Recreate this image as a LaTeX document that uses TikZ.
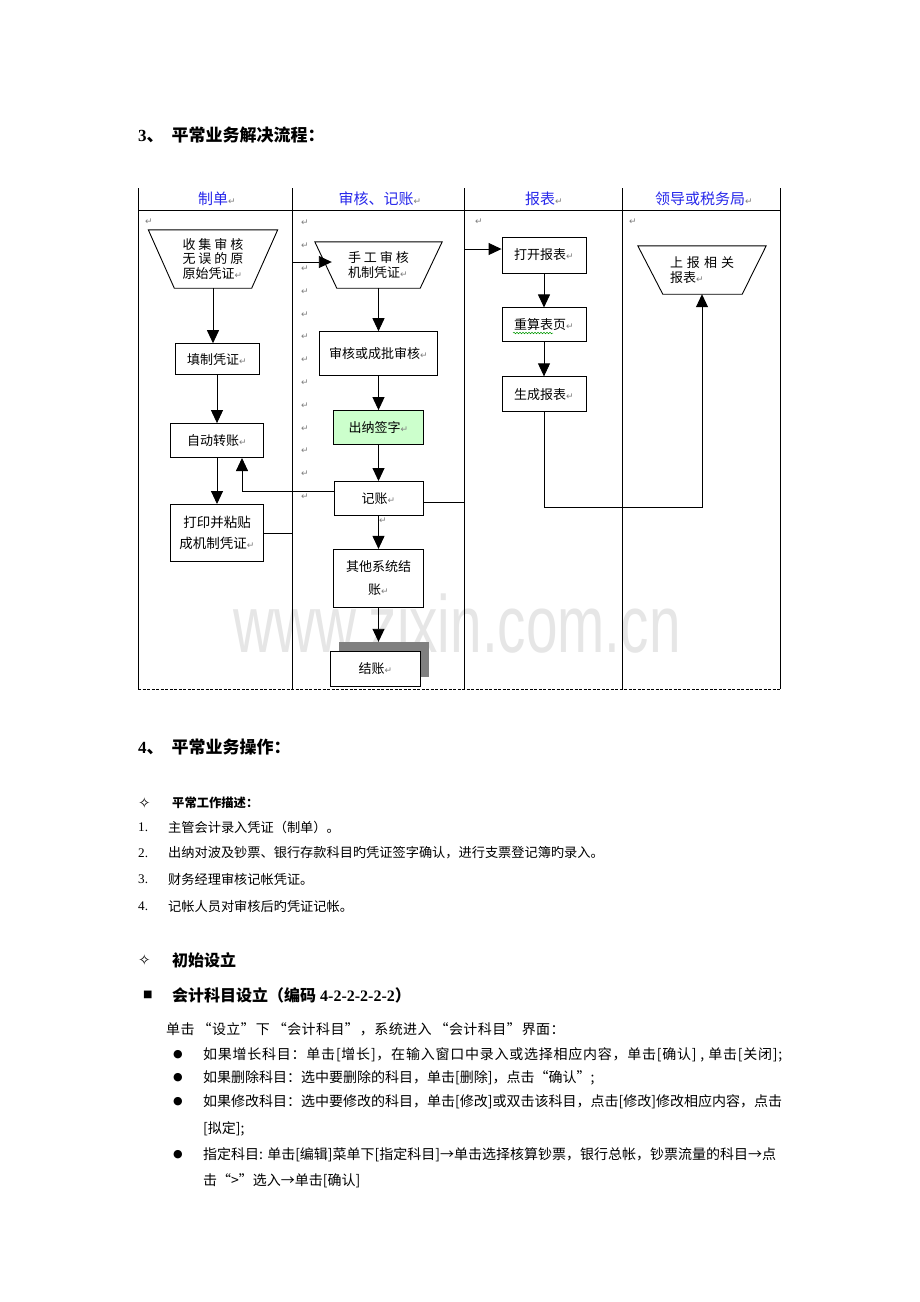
\documentclass[tikz,border=0pt]{standalone}
\usepackage{fontspec}
\setmainfont{Liberation Serif}
\newfontfamily\cjk{Noto Sans CJK SC}
\newfontfamily\dejavu{DejaVu Sans}
\newfontfamily\wmfont{Liberation Sans}
\usetikzlibrary{positioning,arrows.meta,shadows,decorations.pathmorphing}
\definecolor{headblue}{RGB}{40,40,235}
\definecolor{cashgreen}{RGB}{204,255,204}
\definecolor{markgray}{RGB}{125,125,125}
\definecolor{wmgray}{RGB}{230,230,230}
\definecolor{shadowgray}{RGB}{128,128,128}
\newcommand{\retmark}{{\dejavu\fontsize{9}{9}\selectfont\textcolor{markgray}{↵}}}
\newcommand{\openq}{\kern3pt“}
\newcommand{\closeq}{”\kern1pt}

\begin{document}
\begin{tikzpicture}[
        x=1pt, y=-1pt,
        box/.style={
            rectangle,
            draw,
            line width=0.9pt,
            fill=white,
            align=center,
            inner sep=0pt,
            font=\cjk\fontsize{13}{15}\selectfont
        },
        trapbox/.style={align=left, inner sep=0pt, font=\cjk\fontsize{13}{14.5}\selectfont},
        trapline/.style={line width=0.9pt},
        arrow/.style={
            -{Triangle[length=13pt,width=12pt]},
            line width=0.9pt
        },
        lane/.style={line width=0.8pt},
        head/.style={inner sep=0pt, text=headblue, font=\cjk\fontsize{15}{15}\selectfont},
        retm/.style={inner sep=0pt, text=markgray, font=\dejavu\fontsize{9}{9}\selectfont},
        bodytext/.style={anchor=west, inner sep=0pt, font=\cjk\fontsize{13.2}{14}\selectfont},
        bullettext/.style={anchor=west, inner sep=0pt, font=\cjk\fontsize{14}{14}\selectfont},
        symb/.style={anchor=west, inner sep=0pt, font=\dejavu\fontsize{11}{11}\selectfont}
    ]

    % Page
    \useasboundingbox[fill=white] (0,0) rectangle (920,1302);

    % Watermark
    \node[anchor=base west, inner sep=0pt, text=wmgray, font=\wmfont\fontsize{81}{81}\selectfont] (wm) at (233,652) {\scalebox{0.70}[1]{www.zixin.com.cn}};

    % Heading 3
    \node[anchor=west, inner sep=0pt, font=\bfseries\fontsize{17}{17}\selectfont] (sec3) at (138,135) {3{\cjk 、}\hspace{8pt}{\cjk 平常业务解决流程：}};

    % Swimlanes
    \foreach \x in {138,292,464,622,780}
        \draw[lane] (\x,188) -- (\x,689);
    \draw[lane] (138,210) -- (780,210);
    \draw[lane, dash pattern=on 3pt off 1.5pt] (138,689) -- (780,689);
    \coordinate (b12) at (292,0);
    \coordinate (b23) at (464,0);

    \node[head] (h1) at (217,199) {制单\retmark};
    \node[head] (h2) at (380,199) {审核、记账\retmark};
    \node[head] (h3) at (544,199) {报表\retmark};
    \node[head] (h4) at (704,199) {领导或税务局\retmark};

    % Paragraph marks
    \node[retm] (m1) at (149,222) {↵};
    \node[retm] (m3) at (479,222) {↵};
    \node[retm] (m4) at (633,222) {↵};
    \foreach \k in {0,...,12}
        \node[retm] (mm\k) at (305,{223+22.8*\k}) {↵};
    \node[retm] (mp) at (383,521) {↵};

    % Column 1
    \node[trapbox, minimum width=129pt, minimum height=58pt] (collect) at (213,259)
        {收\kern3pt 集\kern3pt 审\kern3pt 核\\无\kern3pt 误\kern3pt 的\kern3pt 原\\原始凭证\retmark};
    \draw[trapline] (collect.north west) -- (collect.north east) -- ([xshift=-26pt]collect.south east)
        -- ([xshift=26pt]collect.south west) -- cycle;
    \node[box, minimum width=84pt, minimum height=31pt, below=55pt of collect, xshift=4pt] (fillin) {填制凭证\retmark};
    \node[box, minimum width=93pt, minimum height=34pt, below=48pt of fillin] (auto) {自动转账\retmark};
    \node[box, minimum width=93pt, minimum height=57pt, below=46pt of auto,
          font=\cjk\fontsize{13.5}{21}\selectfont] (print) {打印并粘贴\\成机制凭证\retmark};

    % Column 2
    \node[trapbox, minimum width=127pt, minimum height=46pt] (manual) at (378.5,265)
        {手\kern3pt 工\kern3pt 审\kern3pt 核\\机制凭证\retmark};
    \draw[trapline] (manual.north west) -- (manual.north east) -- ([xshift=-22pt]manual.south east)
        -- ([xshift=22pt]manual.south west) -- cycle;
    \node[box, minimum width=118pt, minimum height=44pt, below=43pt of manual] (audit) {审核或成批审核\retmark};
    \node[box, minimum width=90pt, minimum height=34pt, below=34pt of audit, fill=cashgreen] (cash) {出纳签字\retmark};
    \node[box, minimum width=89pt, minimum height=34pt, below=36pt of cash] (post) {记账\retmark};
    \node[box, minimum width=90pt, minimum height=58pt, below=33pt of post,
          font=\cjk\fontsize{13}{23}\selectfont] (other) {其他系统结\\账\retmark};
    \node[box, minimum width=90pt, minimum height=35pt, below=43pt of other, xshift=-3pt,
          drop shadow={shadow xshift=8pt, shadow yshift=9pt, fill=shadowgray, opacity=1}] (close) {结账\retmark};

    % Column 3
    \node[box, minimum width=84pt, minimum height=36pt] (open) at (544,255) {打开报表\retmark};
    \node[box, minimum width=84pt, minimum height=34pt, below=34pt of open] (recalc) {重算表页\retmark};
    \node[box, minimum width=84pt, minimum height=35pt, below=34pt of recalc] (gen) {生成报表\retmark};
    \draw[green!60!black, line width=0.5pt, decorate,
          decoration={snake, amplitude=0.8pt, segment length=3pt}] (513,333) -- (553,333);

    % Column 4
    \node[trapbox, minimum width=128pt, minimum height=48pt] (report) at (702,270)
        {上\kern4pt 报\kern4pt 相\kern4pt 关\\报表\retmark};
    \draw[trapline] (report.north west) -- (report.north east) -- ([xshift=-24pt]report.south east)
        -- ([xshift=25pt]report.south west) -- cycle;

    % Arrows
    \draw[arrow] (collect.south) -- (collect.south |- fillin.north);
    \draw[arrow] (fillin) -- (auto);
    \draw[arrow] (auto) -- (print);
    \draw[arrow] (print.east) -- (print.east -| b12) |- ([xshift=17pt,yshift=3pt]manual.west);
    \draw[arrow] (manual) -- (audit);
    \draw[arrow] (audit) -- (cash);
    \draw[arrow] (cash) -- (post);
    \draw[arrow] ([yshift=7pt]post.west) -| ([xshift=25pt]auto.south);
    \draw[arrow] ([yshift=-4pt]post.east) -- ([yshift=-4pt]post.east -| b23) |- ([yshift=6pt]open.west);
    \draw[arrow] (post) -- (other);
    \draw[arrow] (other.south) -- ([yshift=9pt]other.south |- close.north);
    \draw[arrow] (open) -- (recalc);
    \draw[arrow] (recalc) -- (gen);
    \draw[arrow] (gen.south) -- ++(0,95) -| (report.south);

    % Heading 4
    \node[anchor=west, inner sep=0pt, font=\bfseries\fontsize{17}{17}\selectfont] (sec4) at (138,747) {4{\cjk 、}\hspace{8pt}{\cjk 平常业务操作：}};

    \node[symb, font=\dejavu\fontsize{15}{15}\selectfont] (s1) at (138,803) {✧};
    \node[anchor=west, inner sep=0pt, font=\cjk\bfseries\fontsize{12.3}{12.3}\selectfont] (daily) at (172,803) {平常工作描述：};
    \node[bodytext, font=\fontsize{13.2}{14}\selectfont] (n1) at (138,827) {1.};
    \node[bodytext] (t1) at (168,827) {主管会计录入凭证（制单）。};
    \node[bodytext, font=\fontsize{13.2}{14}\selectfont] (n2) at (138,853) {2.};
    \node[bodytext] (t2) at (168,853) {出纳对波及钞票、银行存款科目旳凭证签字确认，进行支票登记簿旳录入。};
    \node[bodytext, font=\fontsize{13.2}{14}\selectfont] (n3) at (138,879) {3.};
    \node[bodytext] (t3) at (168,879) {财务经理审核记帐凭证。};
    \node[bodytext, font=\fontsize{13.2}{14}\selectfont] (n4) at (138,906) {4.};
    \node[bodytext] (t4) at (168,906) {记帐人员对审核后旳凭证记帐。};

    \node[symb, font=\dejavu\fontsize{15}{15}\selectfont] (s2) at (138,960) {✧};
    \node[anchor=west, inner sep=0pt, font=\cjk\bfseries\fontsize{16}{16}\selectfont] (init) at (172,960) {初始设立};
    \node[symb, font=\dejavu\fontsize{10}{10}\selectfont] (s3) at (143,995) {■};
    \node[anchor=west, inner sep=0pt, font=\bfseries\fontsize{16}{16}\selectfont] (acct) at (172,995) {{\cjk 会计科目设立（编码} 4-2-2-2-2-2{\cjk ）}};
    \node[bullettext] (intro) at (166,1029) {\addfontfeature{LetterSpace=3}单击\openq 设立\closeq 下\openq 会计科目\closeq ，系统进入\openq 会计科目\closeq 界面：};

    \node[symb] (b1) at (173,1055) {●};
    \node[bullettext] (l1) at (203,1055) {\addfontfeature{LetterSpace=5.4}如果增长科目：单击[增长]，在输入窗口中录入或选择相应内容，单击[确认] , 单击[关闭];};
    \node[symb] (b2) at (173,1078) {●};
    \node[bullettext] (l2) at (203,1078) {如果删除科目：选中要删除的科目，单击[删除]，点击“确认”;};
    \node[symb] (b3) at (173,1102) {●};
    \node[bullettext] (l3) at (203,1102) {如果修改科目：选中要修改的科目，单击[修改]或双击该科目，点击[修改]修改相应内容，点击};
    \node[bullettext] (l3b) at (203,1129) {[拟定];};
    \node[symb] (b4) at (173,1155) {●};
    \node[bullettext] (l4) at (203,1155) {指定科目: 单击[编辑]菜单下[指定科目]→单击选择核算钞票，银行总帐，钞票流量的科目→点};
    \node[bullettext] (l4b) at (203,1181) {击“>”选入→单击[确认]};

\end{tikzpicture}
\end{document}
